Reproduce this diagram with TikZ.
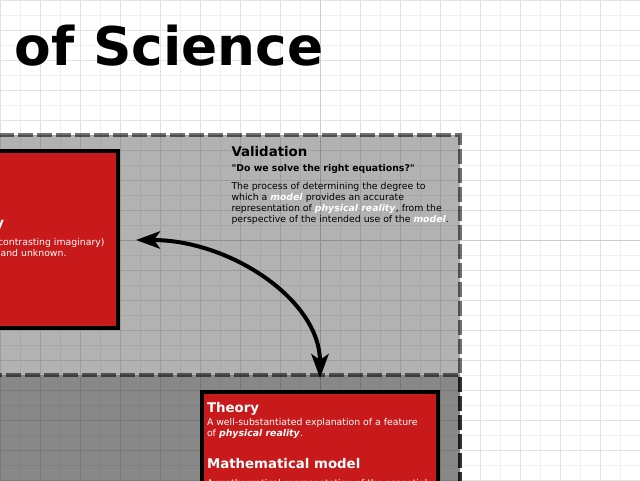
\documentclass[tikz,border=0pt]{standalone}
\usepackage{fontspec}
\setmainfont{DejaVu Sans}[Ligatures=TeXOff]
\usetikzlibrary{arrows.meta,calc}
\definecolor{boxred}{RGB}{200,25,27}
\definecolor{gminor}{RGB}{240,240,240}
\definecolor{gmed}{RGB}{226,226,226}
\definecolor{gaxis}{RGB}{205,205,205}
\newcommand{\emw}[1]{\textcolor{white}{\textbf{\textit{#1}}}}
\begin{document}
\begin{tikzpicture}[x=0.75pt,y=-0.75pt,
  txt/.style={inner sep=0pt,outer sep=0pt,anchor=base west,font=\fontsize{7}{8.3}\selectfont},
  txtr/.style={txt,anchor=base east},
  head/.style={inner sep=0pt,outer sep=0pt,anchor=base west,font=\fontsize{10}{12}\selectfont\bfseries},
  panel/.style={draw=black,draw opacity=0.55,fill=black,line width=3pt,dash pattern=on 11.25pt off 3pt,inner sep=0pt,outer sep=0pt},
  redbox/.style={fill=boxred,draw=black,line width=3pt,inner sep=0pt,outer sep=0pt},
  link/.style={line width=3pt,{Stealth[length=18pt,width=13pt,inset=4.5pt]}-{Stealth[length=18pt,width=13pt,inset=4.5pt]}}]
\useasboundingbox (0,0) rectangle (640,480);
\clip (0,0) rectangle (640,480);
\fill[white] (0,0) rectangle (640,480);
% grid
\foreach \x in {0,20,...,640} \draw[gminor,line width=0.75pt] (\x,0) -- (\x,480);
\foreach \y in {0,15,...,480} \draw[gminor,line width=0.75pt] (0,\y) -- (640,\y);
\foreach \x in {0,40,...,640} \draw[gmed,line width=0.75pt] (\x,0) -- (\x,480);
\foreach \y in {0,30,...,480} \draw[gmed,line width=0.75pt] (0,\y) -- (640,\y);
\draw[gaxis,line width=0.75pt] (320,0) -- (320,480);
\draw[gaxis,line width=0.75pt] (0,240) -- (640,240);
% title
\node[head,font=\fontsize{40}{48}\selectfont\bfseries] (title) at (15,65) {of Science};
% panels
\node[panel,fill opacity=0.3,minimum width=360pt,minimum height=288.75pt] (valpanel) at (220,327.5) {};
\node[panel,fill opacity=0.23,minimum width=360pt,minimum height=108.75pt] (modelpanel) at (220,447.5) {};
% red boxes
\node[redbox,minimum width=103.5pt,minimum height=132.75pt] (reality) at (49,239.5) {};
\node[redbox,minimum width=177pt,minimum height=96pt] (theory) at (320,456) {};
% left box text
\node[head,anchor=base east,text=white] (realhead) at (4,227) {Physical reality};
\node[txtr,text=white] (real1) at (104.5,245) {(contrasting imaginary)};
\node[txtr,text=white] (real2) at (66.5,256) {known and unknown.};
% validation text
\node[head] (valhead) at (231.5,156.5) {Validation};
\node[txt,font=\fontsize{7}{8.3}\selectfont\bfseries] (valq) at (231.5,171) {"Do we solve the right equations?"};
\node[txt] (val1) at (231.5,189) {The process of determining the degree to};
\node[txt] (val2) at (231.5,200) {which a \emw{model} provides an accurate};
\node[txt] (val3) at (231.5,211) {representation of \emw{physical reality}, from the};
\node[txt] (val4) at (231.5,222) {perspective of the intended use of the \emw{model}.};
% theory text
\node[head,text=white] (thhead) at (207,412.3) {Theory};
\node[txt,text=white] (th1) at (207,425.7) {A well-substantiated explanation of a feature};
\node[txt,text=white] (th2) at (207,436.7) {of \textbf{\textit{physical reality}}.};
\node[head,text=white] (mmhead) at (207,468.5) {Mathematical model};
\node[txt,text=white] (mm1) at (207,486) {A mathematical representation of the essential};
% arrow
\coordinate (arrL) at ($(reality.east)+(18,0.5)$);
\coordinate (arrB) at (320,378);
\draw[link] (arrL) .. controls (230,240) and (320,300) .. (arrB);
\end{tikzpicture}
\end{document}
